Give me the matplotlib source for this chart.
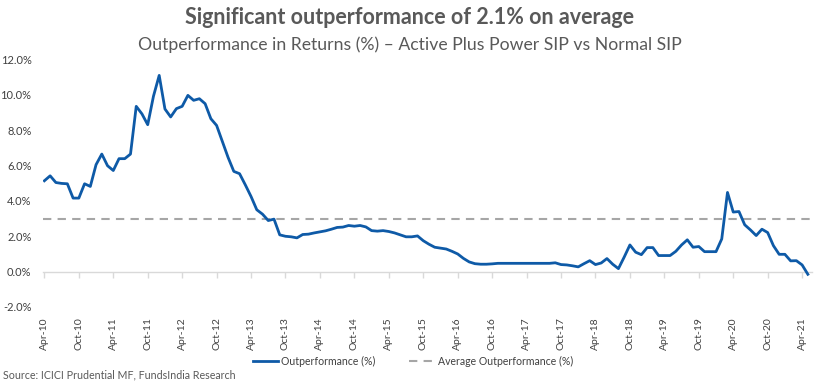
import matplotlib
matplotlib.use('Agg')
import matplotlib.pyplot as plt
import numpy as np

# Monthly outperformance (%), Apr-10 .. May-21
outperformance = [
    5.14, 5.42, 5.04, 4.99, 4.97, 4.16, 4.16, 4.97, 4.82, 6.05,
    6.65, 5.99, 5.72, 6.39, 6.39, 6.65, 9.35, 8.92, 8.31, 9.92,
    11.1, 9.20, 8.75, 9.22, 9.35, 9.97, 9.69, 9.78, 9.50, 8.65,
    8.27, 7.37, 6.46, 5.67, 5.54, 4.91, 4.25, 3.50, 3.25, 2.89,
    2.97, 2.08, 2.00, 1.97, 1.91, 2.10, 2.12, 2.19, 2.25, 2.31,
    2.40, 2.50, 2.52, 2.61, 2.57, 2.61, 2.53, 2.32, 2.29, 2.32,
    2.27, 2.19, 2.08, 1.97, 1.97, 2.02, 1.75, 1.55, 1.38, 1.33,
    1.28, 1.15, 1.00, 0.75, 0.55, 0.45, 0.42, 0.42, 0.44, 0.47,
    0.47, 0.47, 0.47, 0.47, 0.47, 0.47, 0.47, 0.47, 0.47, 0.50,
    0.40, 0.38, 0.33, 0.27, 0.45, 0.62, 0.40, 0.49, 0.74, 0.42,
    0.17, 0.82, 1.51, 1.10, 0.96, 1.36, 1.36, 0.91, 0.91, 0.91,
    1.15, 1.51, 1.80, 1.38, 1.42, 1.13, 1.13, 1.13, 1.85, 4.48,
    3.37, 3.40, 2.65, 2.36, 2.04, 2.40, 2.21, 1.47, 0.98, 0.98,
    0.61, 0.62, 0.38, -0.15,
]
average_outperformance = 3.0
tick_labels = ['Apr-10', 'Oct-10', 'Apr-11', 'Oct-11', 'Apr-12', 'Oct-12',
               'Apr-13', 'Oct-13', 'Apr-14', 'Oct-14', 'Apr-15', 'Oct-15',
               'Apr-16', 'Oct-16', 'Apr-17', 'Oct-17', 'Apr-18', 'Oct-18',
               'Apr-19', 'Oct-19', 'Apr-20', 'Oct-20', 'Apr-21']
y_ticks = [-2, 0, 2, 4, 6, 8, 10, 12]

title = 'Significant outperformance of 2.1% on average'
subtitle = 'Outperformance in Returns (%) \u2013 Active Plus Power SIP vs Normal SIP'
source = 'Source: ICICI Prudential MF, FundsIndia Research'

plt.rcParams['font.family'] = ['Lato', 'DejaVu Sans']
TXT = '#595959'

fig = plt.figure(figsize=(8.19, 3.85), dpi=100)
ax = fig.add_axes([0.0521, 0.2026, 0.9399, 0.6429])

x = np.arange(len(outperformance))
ax.plot(x, outperformance, color='#0E5AA7', lw=2.0, label='Outperformance (%)',
        solid_joinstyle='round', zorder=3)
ax.axhline(average_outperformance, color='#A6A6A6', lw=1.5, ls=(0, (4, 3)),
           label='Average Outperformance (%)', zorder=2)

ax.set_xlim(-0.3, len(outperformance) - 0.2)
ax.set_ylim(y_ticks[0], y_ticks[-1])

for s in ['top', 'right', 'left']:
    ax.spines[s].set_visible(False)
ax.spines['bottom'].set_position(('data', 0))
ax.spines['bottom'].set_color('#D9D9D9')
ax.spines['bottom'].set_linewidth(1.0)

ax.set_xticks(x[::6])
ax.set_xticklabels(tick_labels, rotation=90)
ax.tick_params(axis='x', direction='out', length=4, width=1, color='#D9D9D9',
               pad=29, labelsize=7.5, labelcolor='#404040')
ax.set_yticks(y_ticks)
ax.set_yticklabels([f'{v:.1f}%' for v in y_ticks])
ax.tick_params(axis='y', length=0, pad=8, labelsize=8, labelcolor='#404040')

fig.text(0.5, 1 - 18 / 385, title, ha='center', va='center', fontsize=15.5,
         fontweight='bold', color=TXT)
fig.text(0.5, 1 - 45 / 385, subtitle, ha='center', va='center', fontsize=12.7,
         color=TXT)

fig.legend(loc='center', bbox_to_anchor=(413 / 819, 1 - 361 / 385), ncol=2,
           frameon=False, fontsize=7.6, handlelength=2.4, columnspacing=3.2,
           handletextpad=0.3, labelcolor='#404040')
fig.text(3 / 819, 1 - 375 / 385, source, ha='left', va='center', fontsize=7.7,
         color=TXT)

fig.savefig('out.png', dpi=100)
